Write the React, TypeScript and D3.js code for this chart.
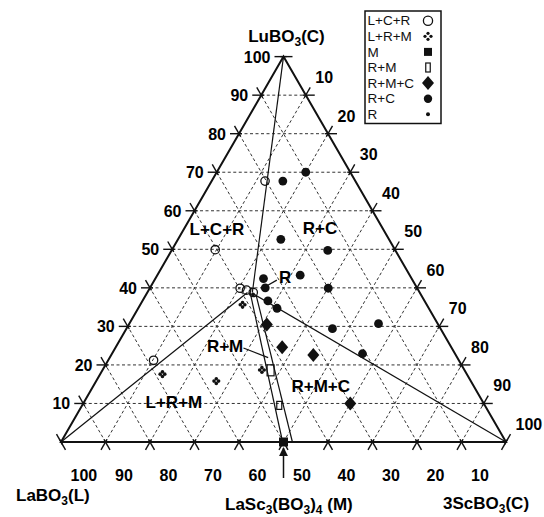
import React from "react";
import * as d3 from "d3";

// ---- data (ternary: lu = LuBO3 %, c = 3ScBO3 %, L = rest) ----
type TP = { lu: number; c: number };

const tickValues = [10, 20, 30, 40, 50, 60, 70, 80, 90, 100];
const leftTickLabels = ["10", "20", "30", "40", "50", "60", "70", "80", "90", "100"]; // LuBO3
const rightTickLabels = ["10", "20", "30", "40", "50", "60", "70", "80", "90", "100"]; // 3ScBO3
const bottomTickLabels = ["100", "90", "80", "70", "60", "50", "40", "30", "20", "10"]; // LaBO3

const legendLabels = ["L+C+R", "L+R+M", "M", "R+M", "R+M+C", "R+C", "R"];

const ptsLCR: TP[] = [
  { lu: 67.7, c: 12.0 },
  { lu: 49.9, c: 9.7 },
  { lu: 21.2, c: 10.2 },
  { lu: 39.9, c: 20.3 },
  { lu: 39.4, c: 22.0 },
  { lu: 38.8, c: 23.8 },
];
const ptsLRM: TP[] = [
  { lu: 35.6, c: 23.0 },
  { lu: 17.6, c: 14.0 },
  { lu: 15.8, c: 27.0 },
  { lu: 18.7, c: 35.8 },
];
const ptsM: TP[] = [{ lu: 0, c: 50 }];
const ptsRM: TP[] = [
  { lu: 18.6, c: 37.8 },
  { lu: 9.5, c: 44.3 },
];
const ptsRMC: TP[] = [
  { lu: 30.5, c: 31.0 },
  { lu: 24.6, c: 37.4 },
  { lu: 22.6, c: 45.4 },
  { lu: 10.0, c: 60.0 },
];
const ptsRC: TP[] = [
  { lu: 67.7, c: 16.0 },
  { lu: 70.0, c: 20.0 },
  { lu: 52.6, c: 23.1 },
  { lu: 49.7, c: 35.1 },
  { lu: 43.3, c: 32.1 },
  { lu: 42.4, c: 24.3 },
  { lu: 40.0, c: 25.9 },
  { lu: 39.9, c: 40.1 },
  { lu: 36.6, c: 28.2 },
  { lu: 34.7, c: 31.2 },
  { lu: 29.4, c: 46.3 },
  { lu: 30.7, c: 56.0 },
  { lu: 22.9, c: 56.3 },
];
const ptsR: TP[] = [{ lu: 38.3, c: 24.0 }];

// phase boundary tie lines
const boundaries: TP[][] = [
  [{ lu: 0, c: 0 }, { lu: 38.8, c: 22.5 }],
  [{ lu: 100, c: 0 }, { lu: 38.8, c: 23.6 }],
  [{ lu: 38.6, c: 23.7 }, { lu: 0, c: 100 }],
  [{ lu: 38.8, c: 23.1 }, { lu: 0, c: 49.8 }],
  [{ lu: 38.1, c: 24.8 }, { lu: 0, c: 52.0 }],
];

// region labels
const regionLabels = [
  { text: "L+C+R", lu: 53.7, c: 8.2 },
  { text: "R+C", lu: 54.1, c: 31.15 },
  { text: "R+M+C", lu: 13.05, c: 51.85 },
  { text: "L+R+M", lu: 8.74, c: 21.0 },
  { text: "R", lu: 41.15, c: 29.8 },
  { text: "R+M", lu: 23.35, c: 25.2 },
];
const leaders: TP[][] = [
  [{ lu: 42.0, c: 27.5 }, { lu: 40.2, c: 25.7 }],
  [{ lu: 24.4, c: 28.8 }, { lu: 21.9, c: 35.6 }],
];

const FONT = "'Liberation Sans', Arial, Helvetica, sans-serif";

type Part = string | { sub: string };
function Chem({ parts, x, y, anchor }: { parts: Part[]; x: number; y: number; anchor: string }) {
  let shifted = false;
  return (
    <text x={x} y={y} textAnchor={anchor} fontFamily={FONT} fontWeight="bold" fontSize={17} style={{ whiteSpace: "pre" }}>
      {parts.map((p, i) => {
        if (typeof p === "string") {
          const dy = shifted ? -4 : 0;
          shifted = false;
          return (
            <tspan key={i} dy={dy}>
              {p}
            </tspan>
          );
        }
        const dy = shifted ? 0 : 4;
        shifted = true;
        return (
          <tspan key={i} dy={dy} fontSize={12}>
            {p.sub}
          </tspan>
        );
      })}
    </text>
  );
}

export default function App() {
  const W = 544,
    H = 517;
  const X0 = 61,
    X1 = 506,
    YB = 442;
  const YT = YB - ((X1 - X0) * Math.sqrt(3)) / 2;
  const xs = d3.scaleLinear().domain([0, 100]).range([X0, X1]);
  const ys = d3.scaleLinear().domain([0, 100]).range([YB, YT]);
  const P = (lu: number, c: number): [number, number] => [xs(c + lu / 2), ys(lu)];
  const line = d3.line<TP>().x((d) => P(d.lu, d.c)[0]).y((d) => P(d.lu, d.c)[1]);

  const s3 = Math.sqrt(3) / 2;
  const STUB = 9,
    IN = 3;

  const grid: JSX.Element[] = [];
  const stubs: JSX.Element[] = [];
  const labels: JSX.Element[] = [];

  const stub = (key: string, p: [number, number], dx: number, dy: number) => (
    <line
      key={key}
      x1={p[0] - dx * IN}
      y1={p[1] - dy * IN}
      x2={p[0] + dx * STUB}
      y2={p[1] + dy * STUB}
      stroke="#111"
      strokeWidth={1.4}
    />
  );

  tickValues.forEach((v, i) => {
    if (v < 100) {
      const a1 = P(v, 0), a2 = P(v, 100 - v);
      const b1 = P(0, v), b2 = P(100 - v, v);
      const c1 = P(0, 100 - v), c2 = P(100 - v, 0);
      [[a1, a2], [b1, b2], [c1, c2]].forEach(([p, q], j) =>
        grid.push(
          <line key={`g${v}-${j}`} x1={p[0]} y1={p[1]} x2={q[0]} y2={q[1]} stroke="#333" strokeWidth={1} strokeDasharray="3,2.5" />
        )
      );
    }
    // Lu = v : horizontal stubs
    const lL = P(v, 0), lR = P(v, 100 - v);
    stubs.push(stub(`sl${v}a`, lL, -1, 0));
    stubs.push(stub(`sl${v}b`, lR, 1, 0));
    // C = v
    const cB = P(0, v), cR = P(100 - v, v);
    stubs.push(stub(`sc${v}a`, cB, -0.5, s3));
    stubs.push(stub(`sc${v}b`, cR, 0.5, -s3));
    // L = v
    const bB = P(0, 100 - v), bL = P(100 - v, 0);
    stubs.push(stub(`sb${v}a`, bB, 0.5, s3));
    stubs.push(stub(`sb${v}b`, bL, -0.5, -s3));

    labels.push(
      <text key={`tl${v}`} x={lL[0] - 13} y={lL[1] + 6} textAnchor="end" fontSize={16} fontWeight="bold" fontFamily={FONT}>
        {leftTickLabels[i]}
      </text>
    );
    labels.push(
      <text key={`tr${v}`} x={cR[0] + 9.5} y={cR[1] - 18 + 6} textAnchor="start" fontSize={16} fontWeight="bold" fontFamily={FONT}>
        {rightTickLabels[i]}
      </text>
    );
    const bp = P(0, i * 10);
    labels.push(
      <text key={`tb${v}`} x={bp[0] + 9.5} y={bp[1] + 33 + 6} textAnchor="start" fontSize={16} fontWeight="bold" fontFamily={FONT}>
        {bottomTickLabels[i]}
      </text>
    );
  });

  const vL = P(0, 0), vT = P(100, 0), vC = P(0, 100);

  const openCircle = (p: [number, number], k: string, r = 4.2) => (
    <circle key={k} cx={p[0]} cy={p[1]} r={r} fill="none" stroke="#111" strokeWidth={1.3} />
  );
  const fourDot = (p: [number, number], k: string, s = 2.3, r = 1.8) => (
    <g key={k}>
      {[[s, 0], [-s, 0], [0, s], [0, -s]].map((o, i) => (
        <circle key={i} cx={p[0] + o[0]} cy={p[1] + o[1]} r={r} fill="#111" />
      ))}
    </g>
  );
  const square = (p: [number, number], k: string, s = 8) => (
    <rect key={k} x={p[0] - s / 2} y={p[1] - s / 2} width={s} height={s} fill="#111" />
  );
  const openRect = (p: [number, number], k: string, w = 6, h = 11) => (
    <rect key={k} x={p[0] - w / 2} y={p[1] - h / 2} width={w} height={h} fill="none" stroke="#111" strokeWidth={1.2} />
  );
  const diamond = (p: [number, number], k: string, a = 6, b = 7) => (
    <path key={k} d={`M${p[0]},${p[1] - b}L${p[0] + a},${p[1]}L${p[0]},${p[1] + b}L${p[0] - a},${p[1]}Z`} fill="#111" />
  );
  const dot = (p: [number, number], k: string, r = 4.4) => <circle key={k} cx={p[0]} cy={p[1]} r={r} fill="#111" />;

  const legendX = 365, legendY = 11, legendW = 76, legendH = 112.5;
  const rowY = (i: number) => 20.7 + i * 15.6;
  const symX = 428;
  const legendSym = (i: number) => {
    const p: [number, number] = [symX, rowY(i)];
    switch (i) {
      case 0: return openCircle(p, "lg0", 4.6);
      case 1: return fourDot(p, "lg1", 3, 1.6);
      case 2: return square(p, "lg2", 8);
      case 3: return openRect(p, "lg3", 4.5, 9);
      case 4: return diamond(p, "lg4", 6, 7);
      case 5: return dot(p, "lg5", 4.2);
      default: return dot(p, "lg6", 2);
    }
  };

  const mx = xs(50);

  return (
    <svg width={W} height={H} viewBox={`0 0 ${W} ${H}`} style={{ position: "absolute", left: 0, top: 0, background: "#fff" }}>
      <defs>
        <marker id="arr" viewBox="0 0 10 10" refX="9" refY="5" markerWidth="6" markerHeight="6" orient="auto">
          <path d="M0,0L10,5L0,10Z" fill="#111" />
        </marker>
      </defs>
      <rect width={W} height={H} fill="#fff" />
      {grid}
      {stubs}
      <path d={`M${vL[0]},${vL[1]}L${vT[0]},${vT[1]}L${vC[0]},${vC[1]}Z`} fill="none" stroke="#111" strokeWidth={2} strokeLinejoin="miter" />
      {boundaries.map((b, i) => (
        <path key={`bd${i}`} d={line(b) || ""} fill="none" stroke="#111" strokeWidth={1.2} />
      ))}
      {leaders.map((b, i) => (
        <path key={`ld${i}`} d={line(b) || ""} fill="none" stroke="#111" strokeWidth={1.2} />
      ))}
      {labels}

      {ptsLCR.map((d, i) => openCircle(P(d.lu, d.c), `lcr${i}`))}
      {ptsLRM.map((d, i) => fourDot(P(d.lu, d.c), `lrm${i}`))}
      {ptsRM.map((d, i) => openRect(P(d.lu, d.c), `rm${i}`, i === 0 ? 7 : 5, i === 0 ? 11 : 8))}
      {ptsRMC.map((d, i) => diamond(P(d.lu, d.c), `rmc${i}`))}
      {ptsRC.map((d, i) => dot(P(d.lu, d.c), `rc${i}`))}
      {ptsR.map((d, i) => dot(P(d.lu, d.c), `r${i}`, 2))}
      {ptsM.map((d, i) => square(P(d.lu, d.c), `m${i}`, 9))}

      {regionLabels.map((l, i) => {
        const p = P(l.lu, l.c);
        return (
          <text key={`rl${i}`} x={p[0]} y={p[1]} textAnchor="middle" fontSize={17} fontWeight="bold" fontFamily={FONT}>
            {l.text}
          </text>
        );
      })}

      <line x1={mx} y1={478} x2={mx} y2={448} stroke="#111" strokeWidth={1.5} markerEnd="url(#arr)" />

      <Chem parts={["LuBO", { sub: "3" }, "(C)"]} x={286.5} y={42} anchor="middle" />
      <Chem parts={["LaBO", { sub: "3" }, "(L)"]} x={16} y={501} anchor="start" />
      <Chem parts={["LaSc", { sub: "3" }, "(BO", { sub: "3" }, ")", { sub: "4" }, " (M)"]} x={225} y={510} anchor="start" />
      <Chem parts={["3ScBO", { sub: "3" }, "(C)"]} x={443} y={509} anchor="start" />

      <rect x={legendX} y={legendY} width={legendW} height={legendH} fill="#fff" stroke="#111" strokeWidth={1.5} />
      {legendLabels.map((t, i) => (
        <text key={`lt${i}`} x={legendX + 2.5} y={rowY(i) + 4.7} fontSize={13.5} fontFamily={FONT} fill="#111">
          {t}
        </text>
      ))}
      {legendLabels.map((_, i) => legendSym(i))}
    </svg>
  );
}
